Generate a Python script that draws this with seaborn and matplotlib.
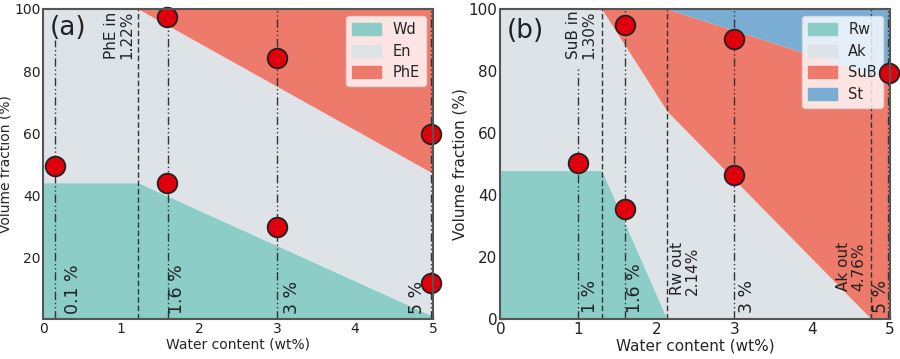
import pandas as pd
import matplotlib.pyplot as plt
import seaborn as sns
from matplotlib.patches import Patch

sns.set_style('ticks')
plt.rcParams['font.family'] = ['DejaVu Sans']

# colours of the phase fields
c_teal = '#8ccdc8'
c_grey = '#dee3e7'
c_red = '#ee7a6b'
c_blue = '#7aadd3'

# ---- panel (a) data ----
a_x = [0, 1.22, 5]
a_wd_top = [44, 44, 1]
a_phe_bottom = [100, 100, 47]
a_samples = [0.15, 1.6, 3, 4.97]
a_sample_top = [90, 100, 100, 100]
a_sample_labels = ['0.1 %', '1.6 %', '3 %', '5 %']
a_boundaries = [1.22]
a_pts = pd.DataFrame({'x': [0.15, 1.59, 1.59, 3.0, 3.0, 4.97, 4.97],
                      'y': [49.5, 97.5, 44.0, 84.2, 29.7, 59.7, 11.6]})

# ---- panel (b) data ----
b_x = [0, 1.3, 2.14, 4.76, 5]
b_rw_top = [48, 48, 0, 0, 0]
b_sub_bottom = [100, 100, 67, 0, 0]
b_st_bottom = [100, 100, 100, 79, 77]
b_samples = [1.0, 1.6, 3, 4.97]
b_sample_top = [81, 100, 100, 100]
b_sample_labels = ['1 %', '1.6 %', '3 %', '5 %']
b_boundaries = [1.3, 2.14, 4.76]
b_pts = pd.DataFrame({'x': [1.0, 1.6, 1.6, 3.0, 3.0, 4.99],
                      'y': [50.3, 94.8, 35.5, 90.3, 46.5, 79.4]})

fig = plt.figure(figsize=(9, 3.59), dpi=100)
ax1 = fig.add_axes([0.048, 0.111, 0.433, 0.864])
ax2 = fig.add_axes([0.556, 0.111, 0.433, 0.864])

sample_ls = (0, (6, 2, 1, 2, 1, 2))
line_col = '#333333'

# panel (a) fields
ax1.fill_between(a_x, 0, a_wd_top, color=c_teal, lw=0, label='Wd')
ax1.fill_between(a_x, a_wd_top, a_phe_bottom, color=c_grey, lw=0, label='En')
ax1.fill_between(a_x, a_phe_bottom, 100, color=c_red, lw=0, label='PhE')

# panel (b) fields
ax2.fill_between(b_x, 0, b_rw_top, color=c_teal, lw=0, label='Rw')
ax2.fill_between(b_x, b_rw_top, b_sub_bottom, color=c_grey, lw=0, label='Ak')
ax2.fill_between(b_x, b_sub_bottom, b_st_bottom, color=c_red, lw=0, label='SuB')
ax2.fill_between(b_x, b_st_bottom, 100, color=c_blue, lw=0, label='St')

for ax, samples, tops, bounds in [(ax1, a_samples, a_sample_top, a_boundaries),
                                  (ax2, b_samples, b_sample_top, b_boundaries)]:
    for xs, top in zip(samples, tops):
        ax.plot([xs, xs], [0, top], color=line_col, lw=1, ls=sample_ls, zorder=3)
    for xb in bounds:
        ax.axvline(xb, color=line_col, lw=1, ls=(0, (4, 2)), zorder=3)

sns.scatterplot(data=a_pts, x='x', y='y', ax=ax1, s=200, color='#e0000b',
                edgecolor='#222222', linewidth=1.3, zorder=5, clip_on=False, legend=False)
sns.scatterplot(data=b_pts, x='x', y='y', ax=ax2, s=200, color='#e0000b',
                edgecolor='#222222', linewidth=1.3, zorder=5, clip_on=False, legend=False)

# vertical text labels
fs = 12.5
a_label_x = [0.38, 1.72, 3.19, 4.79]
for lx, lab in zip(a_label_x, a_sample_labels):
    ax1.text(lx, 1.5, lab, rotation=90, ha='center', va='bottom', fontsize=fs, color='#222222')
ax1.text(0.975, 99.5, 'PhE in\n1.22%', rotation=90, ha='center', va='top',
         multialignment='left', fontsize=11, color='#222222', linespacing=1.0)
ax1.text(0.08, 94, '(a)', fontsize=19, va='center', ha='left', color='#222222')

b_label_x = [1.15, 1.73, 3.17, 4.88]
for lx, lab in zip(b_label_x, b_sample_labels):
    ax2.text(lx, 2.0, lab, rotation=90, ha='center', va='bottom', fontsize=fs, color='#222222')
ax2.text(1.04, 99.5, 'SuB in\n1.30%', rotation=90, ha='center', va='top',
         multialignment='left', fontsize=11, color='#222222', linespacing=1.0)
ax2.text(2.37, 25, 'Rw out\n2.14%', rotation=90, ha='center', va='top',
         multialignment='left', fontsize=11, color='#222222', linespacing=1.0)
ax2.text(4.5, 25, 'Ak out\n4.76%', rotation=90, ha='center', va='top',
         multialignment='left', fontsize=11, color='#222222', linespacing=1.0)
ax2.text(0.08, 93, '(b)', fontsize=19, va='center', ha='left', color='#222222')

# legends
h1 = [Patch(color=c_teal, label='Wd'), Patch(color=c_grey, label='En'),
      Patch(color=c_red, label='PhE')]
h2 = [Patch(color=c_teal, label='Rw'), Patch(color=c_grey, label='Ak'),
      Patch(color=c_red, label='SuB'), Patch(color=c_blue, label='St')]
for ax, h in [(ax1, h1), (ax2, h2)]:
    leg = ax.legend(handles=h, loc='upper right', fontsize=10.5, frameon=True,
                    framealpha=0.8, fancybox=True, borderaxespad=0.5,
                    handlelength=2.0, handleheight=0.9, labelspacing=0.45)
    leg.get_frame().set_edgecolor('#dddddd')
    leg.set_zorder(4)

for ax, fsz in [(ax1, 10), (ax2, 11)]:
    ax.set_xlim(0, 5)
    ax.set_ylim(0, 100)
    ax.set_xticks([0, 1, 2, 3, 4, 5])
    ax.set_xlabel('Water content (wt%)', fontsize=fsz, labelpad=1)
    ax.set_ylabel('Volume fraction (%)', fontsize=fsz, labelpad=1)
    ax.tick_params(direction='in', length=3, width=1, labelsize=fsz, pad=2,
                   color='#555555', labelcolor='#222222')
    for sp in ax.spines.values():
        sp.set_color('#555555')
        sp.set_linewidth(1.5)
        sp.set_zorder(6)
ax1.set_yticks([20, 40, 60, 80, 100])
ax2.set_yticks([0, 20, 40, 60, 80, 100])

plt.savefig('out.png', dpi=100)
